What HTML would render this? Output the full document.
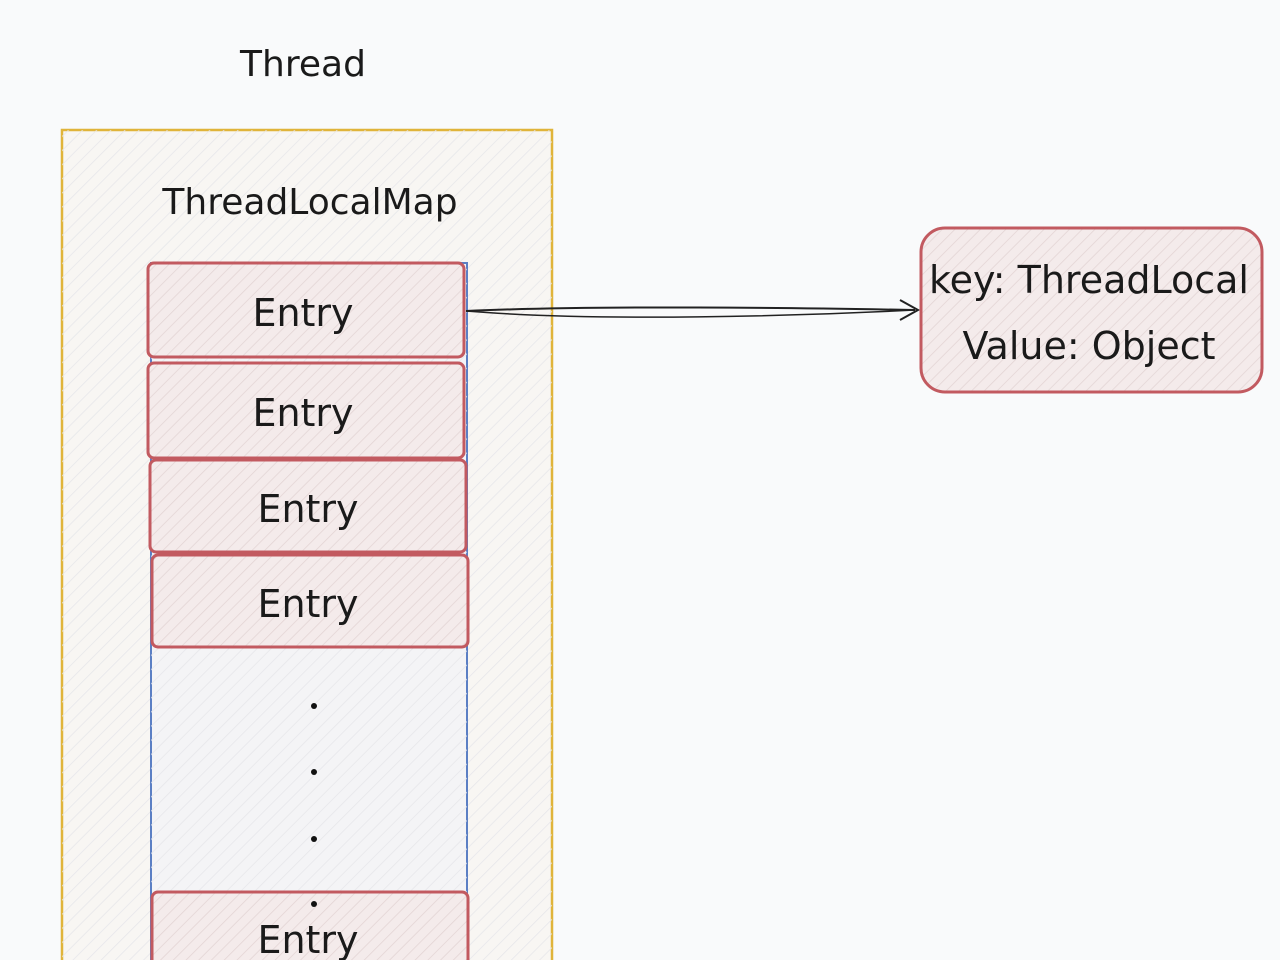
<!DOCTYPE html>
<html><head><style>
html,body{margin:0;padding:0;background:#f9fafb;}
svg{display:block}
text{font-family:"Comic Sans MS","DejaVu Sans","Liberation Sans",sans-serif;fill:#1a1a1a}
</style></head><body>
<svg width="1280" height="960" viewBox="0 0 1280 960">
<defs>
<pattern id="h" width="10" height="10" patternUnits="userSpaceOnUse" patternTransform="rotate(45)">
<line x1="0" y1="0" x2="0" y2="10" stroke="#e6e6ea" stroke-width="1.5"/>
</pattern>
<pattern id="hr" width="9" height="9" patternUnits="userSpaceOnUse" patternTransform="rotate(45)">
<rect width="9" height="9" fill="#f4ebeb"/>
<line x1="0" y1="0" x2="0" y2="9" stroke="#e2d4d4" stroke-width="1.5"/>
</pattern>
</defs>
<rect width="1280" height="960" fill="#f9fafb"/>
<text x="303" y="76" font-size="36" text-anchor="middle">Thread</text>
<rect x="62" y="130" width="490" height="840" fill="#f8f6f3" stroke="#e0b43a" stroke-width="2.5"/>
<rect x="62" y="130" width="490" height="840" fill="url(#h)"/>
<text x="310" y="214" font-size="36" text-anchor="middle">ThreadLocalMap</text>
<rect x="151" y="263" width="316" height="710" fill="#f4f4f6" stroke="#5b7fc4" stroke-width="2"/>
<rect x="151" y="263" width="316" height="710" fill="url(#h)"/>
<g stroke="#c25a60" stroke-width="3" fill="url(#hr)">
<rect x="148" y="263" width="316" height="94" rx="6"/>
<rect x="148" y="363" width="316" height="95" rx="6"/>
<rect x="150" y="460" width="316" height="92" rx="6"/>
<rect x="152" y="555" width="316" height="92" rx="6"/>
<rect x="152" y="892" width="316" height="90" rx="6"/>
</g>
<g font-size="38" text-anchor="middle">
<text x="303" y="326">Entry</text>
<text x="303" y="426">Entry</text>
<text x="308" y="522">Entry</text>
<text x="308" y="617">Entry</text>
<text x="308" y="953">Entry</text>
</g>
<g fill="#111"><circle cx="314" cy="706" r="3"/><circle cx="314" cy="772" r="3"/><circle cx="314" cy="839" r="3"/><circle cx="314" cy="904" r="3"/></g>
<path d="M466 311 C600 305 800 308 915 310" stroke="#222" stroke-width="2" fill="none"/>
<path d="M466 311 C600 322 800 316 915 310" stroke="#222" stroke-width="1.5" fill="none"/>
<path d="M900 300 L918 310 L900 320" stroke="#222" stroke-width="2" fill="none"/>
<rect x="921" y="228" width="341" height="164" rx="24" fill="url(#hr)" stroke="#c25a60" stroke-width="3"/>
<text x="1089" y="293" font-size="38" text-anchor="middle">key: ThreadLocal</text>
<text x="1089" y="359" font-size="38" text-anchor="middle">Value: Object</text>
</svg>
</body></html>
